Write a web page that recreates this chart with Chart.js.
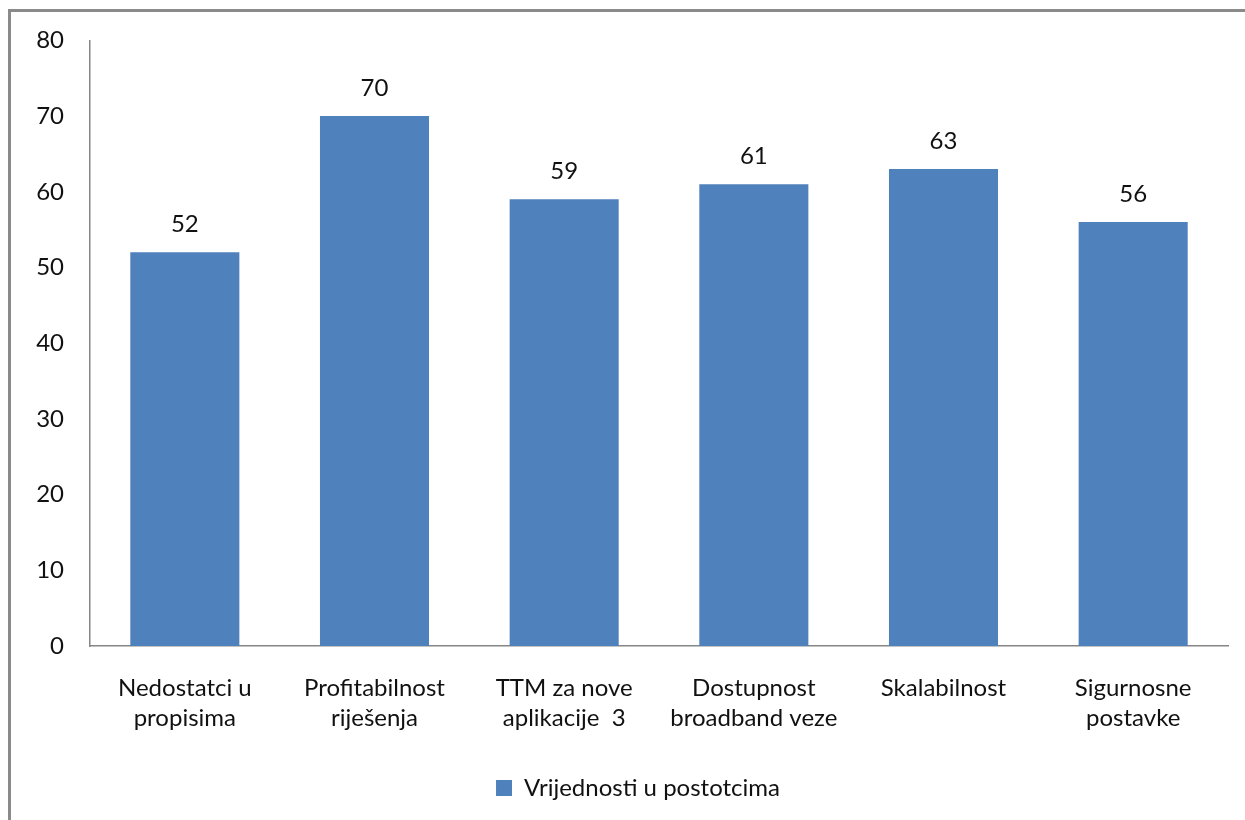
<!DOCTYPE html>
<html>
<head>
<meta charset="utf-8">
<script src="https://cdn.jsdelivr.net/npm/chart.js@4/dist/chart.umd.min.js"></script>
<style>
  body { margin: 0; background: #fff; overflow: hidden; }
  #okvir { position: absolute; left: 8px; top: 9px; width: 1400px; height: 1000px; border: 3px solid #8a8a8a; box-sizing: border-box; }
  #graf { position: absolute; left: 0; top: 0; }
</style>
</head>
<body>
<div id="okvir"></div>
<canvas id="graf" width="1245" height="820"></canvas>
<script>
const kategorije = [
  ['Nedostatci u', 'propisima'],
  ['Profitabilnost', 'riješenja'],
  ['TTM za nove', 'aplikacije  3'],
  ['Dostupnost', 'broadband veze'],
  ['Skalabilnost'],
  ['Sigurnosne', 'postavke']
]
const vrijednosti = [52, 70, 59, 61, 63, 56]
const nazivSerije = 'Vrijednosti u postotcima'

const font = 'Lato'
const velicina = 24

// brojevi iznad stupaca
const oznakePlugin = {
  id: 'oznake',
  afterLayout(chart) {
    // legenda je u originalu malo desnije
    chart.legend.left += 24
    chart.legend.right += 24
  },
  afterDatasetsDraw(chart) {
    const ctx = chart.ctx
    const meta = chart.getDatasetMeta(0)
    ctx.save()
    ctx.font = velicina + 'px ' + font
    ctx.fillStyle = '#111'
    ctx.textAlign = 'center'
    ctx.textBaseline = 'middle'
    meta.data.forEach((bar, i) => {
      ctx.fillText(String(vrijednosti[i]), bar.x, bar.y - 28)
    })
    ctx.restore()
  }
}

const data = {
  labels: kategorije,
  datasets: [{
    label: nazivSerije,
    backgroundColor: '#4F81BD',
    borderWidth: 0,
    data: vrijednosti,
    categoryPercentage: 1,
    barPercentage: 0.575
  }]
}

const config = {
  type: 'bar',
  data: data,
  options: {
    responsive: false,
    animation: false,
    layout: { padding: { top: 40, right: 17, bottom: 10, left: 0 } },
    plugins: {
      tooltip: { enabled: false },
      legend: {
        position: 'bottom',
        labels: {
          color: '#111',
          font: { family: font, size: velicina },
          boxWidth: 16,
          boxHeight: 16,
          padding: 8
        }
      }
    },
    scales: {
      x: {
        grid: { display: false, drawTicks: false },
        border: { display: true, color: '#868686', width: 1.5 },
        ticks: {
          color: '#111',
          font: { family: font, size: velicina, lineHeight: 1.25 },
          padding: 27,
          maxRotation: 0,
          autoSkip: false
        },
        afterFit: (s) => { s.height = 122 }
      },
      y: {
        min: 0,
        max: 80,
        grid: { display: false, drawTicks: false },
        border: { display: true, color: '#868686', width: 1.5 },
        ticks: {
          stepSize: 10,
          color: '#111',
          font: { family: font, size: velicina },
          padding: 26
        },
        afterFit: (s) => { s.width = 90 }
      }
    }
  },
  plugins: [oznakePlugin]
}

const myChart = new Chart(document.getElementById('graf'), config)
</script>
</body>
</html>
